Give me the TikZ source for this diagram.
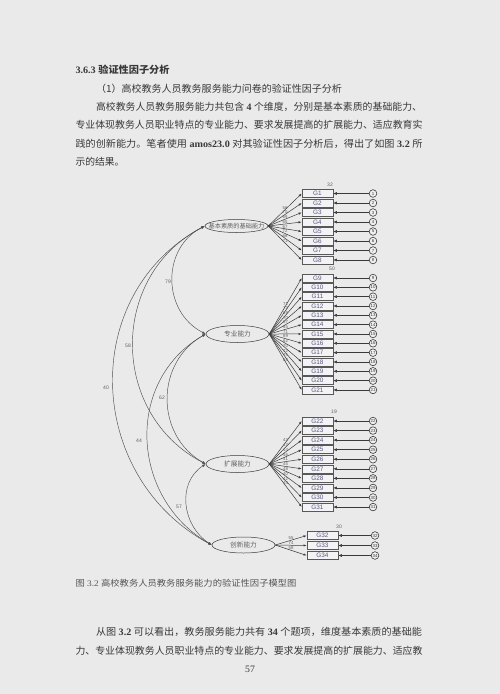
\documentclass[tikz,border=0pt]{standalone}
\usepackage{fontspec}
\usepackage{graphicx}
\setmainfont{Liberation Serif}
\newfontfamily\cjk{Noto Sans CJK SC}
\newfontfamily\dsans{Liberation Sans}
\usetikzlibrary{arrows.meta,calc,shapes.geometric}
\definecolor{pagebg}{HTML}{EAEAEA}
\definecolor{ink}{HTML}{383838}
\definecolor{capink}{HTML}{555555}
\definecolor{lineink}{HTML}{3A3A3A}
\definecolor{boxfill}{HTML}{F3F3F5}
\definecolor{boxtext}{HTML}{5A5A84}
\definecolor{numink}{HTML}{606060}
\newcommand{\fitw}[2]{\resizebox{#1}{\height}{#2}}
\begin{document}
\begin{tikzpicture}[x=1pt,y=-1pt,
  body/.style={anchor=base west,inner sep=0pt,outer sep=0pt,text=ink,font=\fontsize{9.8}{11}\selectfont},
  capt/.style={anchor=base west,inner sep=0pt,outer sep=0pt,text=capink,font=\fontsize{8.6}{10}\selectfont},
  latent/.style={ellipse,draw=lineink,line width=0.5pt,inner sep=0pt,minimum width=63pt,minimum height=17pt},
  lattext/.style={inner sep=0pt,text=numink},
  obsbox/.style={rectangle,draw=lineink!85,line width=0.5pt,fill=boxfill,minimum width=31pt,minimum height=8pt,inner sep=0pt,text=boxtext,font=\dsans\fontsize{6.4}{6.4}\selectfont},
  errc/.style={circle,draw=lineink,line width=0.6pt,fill=boxfill!60!pagebg,minimum size=7.6pt,inner sep=0pt,text=lineink,font=\dsans\fontsize{4.4}{4.4}\selectfont},
  loadarr/.style={draw=lineink,line width=0.5pt,-{Latex[length=3.2pt,width=2.2pt]}},
  errarr/.style={draw=lineink,line width=0.55pt,-{Latex[length=3.6pt,width=3pt]}},
  covarr/.style={draw=lineink!90,line width=0.45pt,{Latex[length=3.6pt,width=2.4pt]}-{Latex[length=3.6pt,width=2.4pt]}},
  ltiny/.style={text=numink,inner sep=0.4pt,font=\dsans\fontsize{4.3}{4.3}\selectfont},
  rsq/.style={text=numink,inner sep=0pt,font=\dsans\fontsize{5}{5}\selectfont},
  covlab/.style={text=numink,inner sep=0pt,font=\dsans\fontsize{5}{5}\selectfont}
]
\fill[pagebg] (0,0) rectangle (500,694);
\useasboundingbox (0,0) rectangle (500,694);

% ---------- text above ----------
\node[body] (t1) at (75.5,73.7) {\fitw{94pt}{\bfseries 3.6.3 {\cjk 验证性因子分析}}};
\node[body] (t2) at (96,92.2) {\fitw{246pt}{\cjk （1）高校教务人员教务服务能力问卷的验证性因子分析}};
\node[body] (t3) at (96,110.4) {\fitw{326pt}{{\cjk 高校教务人员教务服务能力共包含} \textbf{4} {\cjk 个维度，分别是基本素质的基础能力、}}};
\node[body] (t4) at (75.5,128.9) {\fitw{347pt}{\cjk 专业体现教务人员职业特点的专业能力、要求发展提高的扩展能力、适应教育实}};
\node[body] (t5) at (75.5,147.4) {\fitw{347pt}{{\cjk 践的创新能力。笔者使用} \textbf{amos23.0} {\cjk 对其验证性因子分析后，得出了如图} \textbf{3.2} {\cjk 所}}};
\node[body] (t6) at (75.5,165.9) {\cjk 示的结果。};

% ---------- text below ----------
\node[capt] (cap) at (75.5,586.5) {\fitw{221pt}{{\cjk 图} 3.2 {\cjk 高校教务人员教务服务能力的验证性因子模型图}}};
\node[body] (b1) at (96,635.7) {\fitw{326pt}{{\cjk 从图} \textbf{3.2} {\cjk 可以看出，教务服务能力共有} \textbf{34} {\cjk 个题项，维度基本素质的基础能}}};
\node[body] (b2) at (75.5,654.7) {\fitw{347pt}{\cjk 力、专业体现教务人员职业特点的专业能力、要求发展提高的扩展能力、适应教}};
\node[body,anchor=base] (pg) at (250,672.5) {57};

% ---------- latent variables ----------
\node[latent,minimum height=13pt] (F1) at (236.5,226) {};
\node[lattext,font=\cjk\fontsize{6.2}{6.2}\selectfont] (F1t) at (F1.center) {基本素质的基础能力};
\node[latent] (F2) at (237.5,334) {};
\node[lattext,font=\cjk\fontsize{6.7}{6.7}\selectfont] (F2t) at (F2.center) {专业能力};
\node[latent] (F3) at (237.5,464) {};
\node[lattext,font=\cjk\fontsize{6.7}{6.7}\selectfont] (F3t) at (F3.center) {扩展能力};
\node[latent,minimum height=16pt] (F4) at (243.5,545) {};
\node[lattext,font=\cjk\fontsize{6.7}{6.7}\selectfont] (F4t) at (F4.center) {创新能力};

% ---------- group 1 ----------
\foreach \i/\v in {1/56,2/70,3/69,4/65,5/67,6/72,7/66,8/71} {
  \pgfmathsetmacro{\yy}{193.5+(\i-1)*9.5}
  \node[obsbox] (G\i) at (317.5,\yy) {G\i};
  \node[errc] (e\i) at (373,\yy) {\i};
  \draw[errarr] (e\i) -- (G\i);
  \draw[loadarr] (F1.east) -- (G\i.west) node[ltiny,pos=0.5,above] (l\i) {\v};
}
% ---------- group 2 ----------
\foreach \i/\v in {9/71,10/73,11/69,12/70,13/67,14/65,15/71,16/69,17/62,18/70,19/72,20/75,21/68} {
  \pgfmathsetmacro{\yy}{278+(\i-9)*9.33}
  \node[obsbox] (G\i) at (317.5,\yy) {G\i};
  \node[errc] (e\i) at (373,\yy) {\i};
  \draw[errarr] (e\i) -- (G\i);
  \draw[loadarr] (F2.east) -- (G\i.west) node[ltiny,pos=0.5,above] (l\i) {\v};
}
% ---------- group 3 ----------
\foreach \i/\v in {22/43,23/47,24/44,25/46,26/41,27/45,28/48,29/40,30/42,31/44} {
  \pgfmathsetmacro{\yy}{421+(\i-22)*9.56}
  \node[obsbox] (G\i) at (317.5,\yy) {G\i};
  \node[errc] (e\i) at (373,\yy) {\i};
  \draw[errarr] (e\i) -- (G\i);
  \draw[loadarr] (F3.east) -- (G\i.west) node[ltiny,pos=0.5,above] (l\i) {\v};
}
% ---------- group 4 ----------
\foreach \i/\v in {32/55,33/74,34/58} {
  \pgfmathsetmacro{\yy}{535.5+(\i-32)*10}
  \node[obsbox] (G\i) at (322.5,\yy) {G\i};
  \node[errc] (e\i) at (375,\yy) {\i};
  \draw[errarr] (e\i) -- (G\i);
  \draw[loadarr] (F4.east) -- (G\i.west) node[ltiny,pos=0.5,above] (l\i) {\v};
}

% ---------- R squared ----------
\node[rsq] (r1) at (330,184.5) {32};
\node[rsq] (r9) at (332,268.5) {50};
\node[rsq] (r22) at (334,412) {19};
\node[rsq] (r32) at (339,526.5) {30};

% ---------- covariances ----------
\draw[covarr] (F1.west) .. controls ($(F1.west)+(-43.6,22.2)$) and ($(F2.west)+(-43.6,-22.2)$) .. (F2.west);
\draw[covarr] (F1.west) .. controls ($(F1.west)+(-96.1,49.8)$) and ($(F3.west)+(-96.1,-49.8)$) .. (F3.west);
\draw[covarr] (F1.west) .. controls ($(F1.west)+(-126.6,68.2)$) and ($(F4.west)+(-126.6,-68.2)$) .. (F4.west);
\draw[covarr] (F2.west) .. controls ($(F2.west)+(-50.6,28.5)$) and ($(F3.west)+(-50.6,-28.5)$) .. (F3.west);
\draw[covarr] (F2.west) .. controls ($(F2.west)+(-81.4,46.8)$) and ($(F4.west)+(-81.4,-46.8)$) .. (F4.west);
\draw[covarr] (F3.west) .. controls ($(F3.west)+(-29.4,19)$) and ($(F4.west)+(-29.4,-19)$) .. (F4.west);

\node[covlab] (c79) at (168,282) {79};
\node[covlab] (c58) at (128,346) {58};
\node[covlab] (c40) at (106,388) {40};
\node[covlab] (c62) at (162,398) {62};
\node[covlab] (c44) at (139,441) {44};
\node[covlab] (c57) at (179,507) {57};
\end{tikzpicture}
\end{document}
